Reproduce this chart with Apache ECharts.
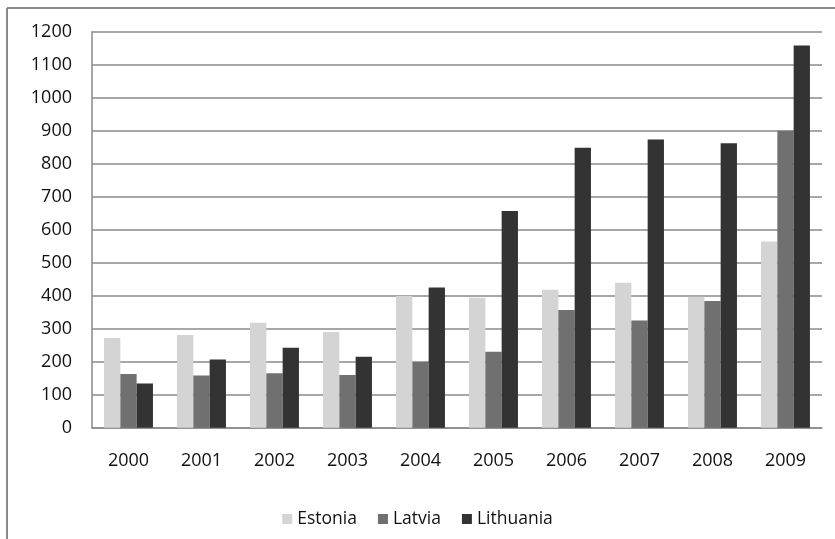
<!DOCTYPE html>
<html>
<head>
<meta charset="utf-8">
<script src="https://cdn.jsdelivr.net/npm/echarts@6/dist/echarts.min.js"></script>
<style>html,body{margin:0;padding:0;background:#fff;}#c{width:835px;height:539px;}</style>
</head>
<body>
<div id="c"></div>
<script>
var years = ['2000','2001','2002','2003','2004','2005','2006','2007','2008','2009'];
var estonia = [272, 281, 318, 290, 399, 394, 418, 439, 397, 564];
var latvia = [163, 158, 165, 160, 199, 230, 357, 325, 384, 900];
var lithuania = [134, 207, 242, 215, 425, 657, 848, 873, 862, 1158];
var seriesNames = ['Estonia', 'Latvia', 'Lithuania'];
var colors = ['#d4d4d4', '#707070', '#333333'];
var FONT = '"Open Sans", sans-serif';

var chart = echarts.init(document.getElementById('c'), null, {renderer: 'canvas'});
function bar(name, data, color) {
  return {
    name: name, type: 'bar', data: data,
    barGap: '0%', barCategoryGap: '33%',
    itemStyle: {color: color},
    emphasis: {disabled: true}
  };
}
chart.setOption({
  animation: false,
  backgroundColor: '#ffffff',
  color: colors,
  graphic: [
    {type: 'line', shape: {x1: 7, y1: 8, x2: 835, y2: 8}, style: {stroke: '#8a8a8a', lineWidth: 2}},
    {type: 'line', shape: {x1: 7, y1: 8, x2: 7, y2: 539}, style: {stroke: '#8a8a8a', lineWidth: 2}}
  ],
  grid: {left: 92, right: 13, top: 31.7, bottom: 111.3, containLabel: false},
  legend: {
    data: seriesNames,
    left: 'center', top: 505,
    icon: 'rect', itemWidth: 10, itemHeight: 10, itemGap: 21,
    textStyle: {fontFamily: FONT, fontSize: 17.5, color: '#111'},
    selectedMode: false
  },
  xAxis: {
    type: 'category', data: years,
    axisLine: {lineStyle: {color: '#8a8a8a', width: 1.5}},
    axisTick: {show: false},
    axisLabel: {fontFamily: FONT, fontSize: 18, color: '#111', margin: 24}
  },
  yAxis: {
    type: 'value', min: 0, max: 1200, interval: 100,
    axisLine: {show: true, lineStyle: {color: '#8a8a8a', width: 1.5}},
    axisTick: {show: false},
    splitLine: {lineStyle: {color: '#8a8a8a', width: 1.5}},
    axisLabel: {fontFamily: FONT, fontSize: 18, color: '#111', margin: 20,
      formatter: function (v) { return String(v); }}
  },
  series: [
    bar(seriesNames[0], estonia, colors[0]),
    bar(seriesNames[1], latvia, colors[1]),
    bar(seriesNames[2], lithuania, colors[2])
  ]
});
</script>
</body>
</html>
